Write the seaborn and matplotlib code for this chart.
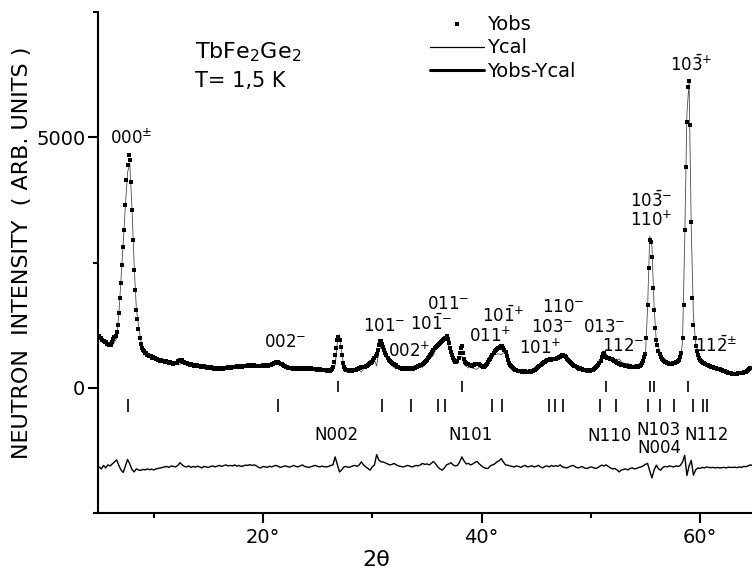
import numpy as np
import pandas as pd
import matplotlib
matplotlib.use('Agg')
import matplotlib.pyplot as plt
import seaborn as sns

# Estilo
sns.set_theme(style='ticks')
plt.rcParams['font.family'] = ['DejaVu Sans']
plt.rcParams['mathtext.default'] = 'regular'
plt.rcParams['text.color'] = 'black'
plt.rcParams['axes.labelcolor'] = 'black'
plt.rcParams['xtick.color'] = 'black'
plt.rcParams['ytick.color'] = 'black'

# ---------------------------
# Datos leidos del difractograma (TbFe2Ge2, T = 1.5 K)
# ---------------------------
two_theta_start = 5.0
step_obs = 0.1    # paso de Yobs (grados)
step_diff = 0.2   # paso de la curva diferencia (grados)

# Yobs, una fila por grado (5.0 ... 64.9)
y_obs = [
    1030, 1000, 985, 950, 940, 915, 905, 880, 870, 850,      # 5
    845, 860, 905, 975, 1010, 1040, 1120, 1250, 1500, 1800,  # 6
    2100, 2450, 2800, 3150, 3650, 4150, 4450, 4650, 4550, 4100,  # 7
    3550, 2950, 2350, 1950, 1550, 1380, 1180, 1000, 880, 800,    # 8
    750, 735, 700, 690, 660, 655, 625, 625, 600, 610,        # 9
    585, 590, 565, 570, 550, 560, 540, 545, 525, 535,        # 10
    520, 525, 505, 515, 495, 505, 490, 500, 480, 490,        # 11
    495, 500, 525, 530, 550, 540, 545, 520, 515, 495,        # 12
    490, 470, 480, 460, 470, 450, 460, 440, 450, 435,        # 13
    445, 430, 440, 420, 430, 415, 425, 405, 420, 400,        # 14
    410, 395, 405, 385, 395, 380, 390, 375, 385, 370,        # 15
    385, 375, 390, 380, 395, 385, 400, 390, 405, 395,        # 16
    410, 400, 415, 405, 420, 410, 425, 415, 425, 420,        # 17
    430, 420, 435, 425, 440, 430, 445, 435, 445, 440,        # 18
    450, 435, 445, 430, 440, 425, 435, 425, 440, 430,        # 19
    445, 430, 440, 430, 445, 440, 455, 450, 465, 470,        # 20
    485, 495, 505, 515, 510, 500, 480, 470, 450, 440,        # 21
    430, 415, 410, 395, 400, 385, 395, 380, 390, 380,        # 22
    385, 375, 385, 370, 380, 370, 385, 375, 390, 380,        # 23
    390, 380, 392, 378, 385, 372, 380, 365, 375, 362,        # 24
    370, 358, 366, 352, 362, 350, 358, 345, 354, 342,        # 25
    350, 342, 352, 370, 420, 520, 650, 800, 950, 1010,       # 26
    960, 820, 650, 500, 410, 370, 355, 345, 350, 340,        # 27
    348, 340, 350, 345, 358, 355, 370, 375, 395, 400,        # 28
    412, 408, 418, 412, 430, 440, 460, 470, 490, 500,        # 29
    520, 550, 590, 630, 680, 760, 860, 940, 930, 880,        # 30
    820, 760, 700, 650, 600, 560, 530, 510, 495, 480,        # 31
    470, 450, 445, 420, 415, 395, 395, 380, 390, 375,        # 32
    385, 370, 382, 372, 385, 375, 388, 380, 395, 392,        # 33
    410, 408, 430, 432, 455, 458, 480, 485, 515, 530,        # 34
    560, 590, 620, 645, 680, 720, 760, 790, 815, 840,        # 35
    860, 880, 900, 920, 935, 950, 970, 1000, 1030, 980,      # 36
    900, 800, 720, 650, 590, 545, 520, 510, 530, 600,        # 37
    700, 790, 830, 700, 580, 520, 490, 475, 465, 455,        # 38
    455, 440, 450, 445, 465, 465, 482, 475, 472, 445,        # 39
    430, 418, 415, 425, 445, 475, 510, 550, 580, 615,        # 40
    650, 690, 725, 750, 770, 785, 795, 810, 825, 830,        # 41
    800, 760, 715, 640, 560, 500, 460, 430, 405, 385,        # 42
    370, 352, 350, 335, 340, 328, 335, 322, 330, 318,        # 43
    325, 312, 318, 310, 325, 320, 338, 338, 360, 360,        # 44
    380, 395, 410, 430, 450, 470, 490, 505, 520, 535,        # 45
    545, 555, 550, 565, 560, 575, 570, 582, 578, 592,        # 46
    595, 605, 615, 630, 645, 655, 640, 610, 580, 555,        # 47
    530, 510, 498, 470, 458, 435, 428, 405, 400, 382,        # 48
    385, 368, 368, 355, 358, 345, 350, 340, 348, 340,        # 49
    345, 350, 360, 375, 395, 420, 440, 460, 490, 540,        # 50
    610, 680, 695, 640, 610, 600, 595, 590, 580, 565,        # 51
    550, 540, 530, 515, 500, 488, 475, 465, 455, 448,        # 52
    445, 435, 438, 425, 430, 420, 425, 415, 420, 410,        # 53
    418, 412, 425, 420, 438, 440, 460, 490, 540, 610,        # 54
    680, 1000, 1650, 2400, 2950, 2900, 2600, 2000, 1550, 1200,   # 55
    950, 850, 740, 670, 610, 570, 550, 535, 520, 505,        # 56
    495, 488, 482, 480, 480, 485, 492, 500, 510, 520,        # 57
    535, 560, 610, 700, 1000, 1650, 3150, 4400, 5300, 6000,  # 58
    6120, 5250, 3300, 1800, 1250, 1000, 840, 730, 660, 600,  # 59
    560, 540, 520, 500, 485, 470, 460, 450, 440, 430,        # 60
    422, 415, 410, 402, 395, 388, 380, 372, 365, 358,        # 61
    350, 342, 335, 325, 315, 305, 298, 292, 285, 282,        # 62
    280, 278, 278, 280, 282, 285, 288, 292, 298, 302,        # 63
    308, 315, 322, 335, 350, 370, 385, 395, 400, 405,        # 64
]

# Yobs - Ycal, una fila cada 2 grados (5.0 ... 64.8)
resid = [
    0, -40, 30, -20, 40, 20, 60, 100, 140, 30,          # 5-6.8
    -60, -110, 20, 150, 60, -50, -100, -40, -60, -70,   # 7-8.8
    -50, -60, -40, -55, -45, -60, -40, -30, -20, -10,   # 9-10.8
    0, 10, -10, 20, 10, 0, 30, 85, 40, 10,              # 11-12.8
    0, 20, -10, 10, -5, 15, 0, -20, 10, 0,              # 13-14.8
    -10, 10, 20, 0, 15, 30, 10, 25, 40, 20,             # 15-16.8
    30, 20, 40, 15, 30, 10, 20, 35, 30, 45,             # 17-18.8
    30, 40, 20, -10, -20, 10, 0, -10, 15, 0,            # 19-20.8
    20, 30, 10, -10, 5, 20, 10, -5, 10, 30,             # 21-22.8
    10, 0, 20, 40, 10, 0, -10, 5, 20, 30,               # 23-24.8
    10, 0, 15, 5, 0, 10, 30, 40, 200, 50,               # 25-26.8
    -100, -60, 0, 10, -10, 0, 20, 30, 10, 40,           # 27-28.8
    100, 40, 0, -30, -65, 0, 40, 245, 140, 100,         # 29-30.8
    100, 80, 60, 40, 50, 70, 40, 20, 10, 0,             # 31-32.8
    10, 30, 20, 0, 10, 30, 20, 40, 70, 50,              # 33-34.8
    60, 40, 70, 110, 60, 0, -40, -65, -20, 40,          # 35-36.8
    60, 85, 40, 20, 30, 100, 200, 120, 60, 70,          # 37-38.8
    40, 60, 90, 110, 60, 20, -10, -30, -30, 20,         # 39-40.8
    40, 60, 100, 120, 165, 100, 40, 35, 20, 10,         # 41-42.8
    0, 20, 10, -10, 15, 30, 0, 10, 25, 0,               # 43-44.8
    10, 30, 0, -20, 10, 20, 0, 30, 10, 25,              # 45-46.8
    10, 40, 0, -10, -20, 0, 20, 30, 0, -20,             # 47-48.8
    -10, 10, -20, -30, -20, 0, -10, -30, -20, 10,       # 49-50.8
    35, 20, 40, 10, -20, -40, -30, -60, -100, -60,      # 51-52.8
    -50, -40, -60, -30, -20, -40, -30, -10, 0, 20,      # 53-54.8
    50, 70, -80, -220, -60, 35, -40, -65, -10, 10,      # 55-56.8
    0, 20, 10, 0, 20, 10, 30, 100, 230, -170,           # 57-58.8
    20, 130, -165, -60, -20, -30, -10, -20, 0, -10,     # 59-60.8
    -15, -10, -20, -10, -20, -15, -10, -20, -5, -10,    # 61-62.8
    -10, -5, -15, 0, -10, 10, 5, 20, 40, 30,            # 63-64.8
]

# Posiciones de las reflexiones (2 theta)
refl_magnetic_top = [26.9, 38.2, 51.4, 55.43, 55.79, 58.93]
refl_bottom = [7.67, 21.35, 30.9, 33.5, 36.05, 36.7, 40.93, 41.9,
               46.15, 46.75, 47.42, 50.85, 52.31, 55.27, 56.34, 57.62,
               59.33, 60.30, 60.61]

# Etiquetas hkl: (texto, 2theta, intensidad de la linea base)
peak_labels = [
    (r'$000^{\pm}$', 7.92, 4880),
    (r'$002^{-}$', 22.0, 815),
    (r'$101^{-}$', 31.08, 1140),
    (r'$002^{+}$', 33.36, 615),
    (r'$10\bar{1}^{-}$', 35.44, 1155),
    (r'$011^{-}$', 36.96, 1575),
    (r'$10\bar{1}^{+}$', 41.97, 1315),
    (r'$011^{+}$', 40.78, 915),
    (r'$110^{-}$', 47.46, 1515),
    (r'$103^{-}$', 46.45, 1115),
    (r'$101^{+}$', 45.35, 675),
    (r'$013^{-}$', 51.26, 1115),
    (r'$112^{-}$', 52.95, 735),
    (r'$10\bar{3}^{-}$', 55.51, 3605),
    (r'$110^{+}$', 55.51, 3225),
    (r'$10\bar{3}^{+}$', 59.22, 6315),
    (r'$11\bar{2}^{\pm}$', 61.5, 715),
]
nuclear_labels = [
    ('N002', 26.68, -1035),
    ('N101', 38.95, -1035),
    ('N110', 51.69, -1055),
    ('N103', 56.18, -935),
    ('N004', 56.25, -1295),
    ('N112', 60.61, -1035),
]

diff_base = -1580

# ---------------------------
# Preparar DataFrames
# ---------------------------
tt_obs = np.round(two_theta_start + step_obs * np.arange(len(y_obs)), 2)
tt_diff = np.round(two_theta_start + step_diff * np.arange(len(resid)), 2)
yobs_arr = np.array(y_obs, dtype=float)
resid_arr = np.array(resid, dtype=float)
ycal_arr = yobs_arr[::2][:len(resid_arr)] - resid_arr

df_obs = pd.DataFrame({'tt': tt_obs, 'yobs': yobs_arr})
df_cal = pd.DataFrame({'tt': tt_diff, 'ycal': ycal_arr,
                       'diff': resid_arr + diff_base})

# ---------------------------
# Grafico
# ---------------------------
fig = plt.figure(figsize=(7.52, 5.69), dpi=100)
ax = fig.add_axes([0.1297, 0.0984, 0.8703, 0.8805])

sns.lineplot(data=df_cal, x='tt', y='ycal', ax=ax, color='0.3', lw=0.6,
             estimator=None, sort=False, label='Ycal', zorder=2)
sns.scatterplot(data=df_obs, x='tt', y='yobs', ax=ax, color='black',
                marker='s', s=10, linewidth=0, label='Yobs', zorder=3)
sns.lineplot(data=df_cal, x='tt', y='diff', ax=ax, color='black', lw=1.0,
             estimator=None, sort=False, label='Yobs-Ycal', zorder=3)

ax.vlines(refl_magnetic_top, -80, 140, color='black', lw=1.2)
ax.vlines(refl_bottom, -480, -220, color='black', lw=1.2)

for txt, xx, yy in peak_labels:
    ax.text(xx, yy, txt, ha='center', va='baseline', fontsize=12)
for txt, xx, yy in nuclear_labels:
    ax.text(xx, yy, txt, ha='center', va='baseline', fontsize=12)

ax.text(13.78, 6693, r'TbFe$_2$Ge$_2$', ha='left', va='center', fontsize=16)
ax.text(13.78, 6115, 'T= 1,5 K', ha='left', va='center', fontsize=15)

ax.set_xlim(4.85, 64.76)
ax.set_ylim(-2500, 7500)
ax.set_xticks([20, 40, 60])
ax.set_xticklabels(['20°', '40°', '60°'])
ax.set_xticks([10, 30, 50], minor=True)
ax.set_yticks([0, 5000])
ax.set_yticklabels(['0', '5000'])
ax.set_yticks([-2500, 2500, 7500], minor=True)
ax.tick_params(which='major', length=7.2, width=1.5, direction='out',
               labelsize=14, colors='black')
ax.tick_params(which='minor', length=3.6, width=1.5, direction='out',
               colors='black')
ax.tick_params(axis='y', which='major', pad=1.5)
ax.tick_params(axis='x', which='major', pad=3.5)

for side in ['top', 'right']:
    ax.spines[side].set_visible(False)
for side in ['left', 'bottom']:
    ax.spines[side].set_linewidth(1.5)
    ax.spines[side].set_color('black')

ax.set_xlabel('2θ', fontsize=16, color='black')
ax.xaxis.set_label_coords(0.4255, -0.074)
ax.set_ylabel('NEUTRON  INTENSITY  ( ARB. UNITS )', fontsize=16, color='black')
ax.yaxis.set_label_coords(-0.100, 0.519)

handles, labels = ax.get_legend_handles_labels()
order = [labels.index(k) for k in ['Yobs', 'Ycal', 'Yobs-Ycal']]
leg = ax.legend([handles[i] for i in order], [labels[i] for i in order],
                loc='upper left', bbox_to_anchor=(0.508, 0.995),
                frameon=False, fontsize=14, handlelength=2.8,
                handletextpad=0.15, labelspacing=0.25, borderpad=0,
                borderaxespad=0, scatterpoints=1, markerscale=1.0)
for line in leg.get_lines():
    if line.get_label() == 'Yobs-Ycal':
        line.set_linewidth(2.2)
    else:
        line.set_linewidth(0.9)
        line.set_color('black')

fig.savefig('out.png', dpi=100)
plt.close(fig)
